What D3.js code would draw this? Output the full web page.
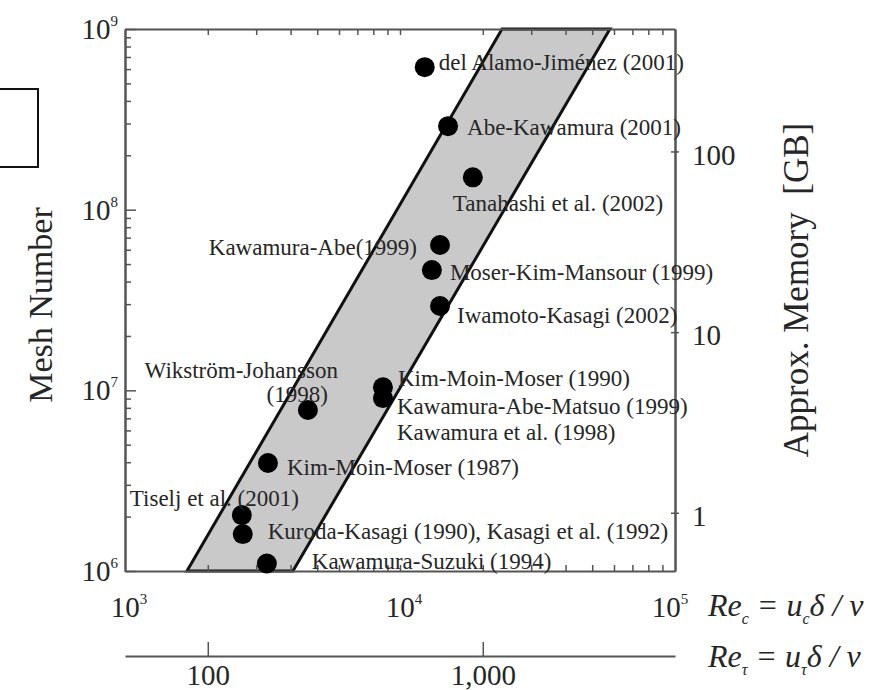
<!DOCTYPE html>
<meta charset="utf-8">
<script src="https://d3js.org/d3.v7.min.js"></script>
<style>
  body { margin: 0; background: #fff; }
  text { font-family: "Liberation Serif", "DejaVu Serif", serif; fill: #262626; }
</style>
<div id="chart"></div>
<script>

    // DNS studies: Re_c = u_c delta / nu, and number of mesh points
    var studies = ["del Alamo-Jiménez (2001)", "Abe-Kawamura (2001)", "Tanahashi et al. (2002)",
                   "Kawamura-Abe(1999)", "Moser-Kim-Mansour (1999)", "Iwamoto-Kasagi (2002)",
                   "Kim-Moin-Moser (1990)", "Kawamura-Abe-Matsuo (1999)", "Wikström-Johansson (1998)",
                   "Kim-Moin-Moser (1987)", "Tiselj et al. (2001)", "Kuroda-Kasagi (1990)", "Kawamura-Suzuki (1994)"]
    var reC  = [12300, 14950, 18400, 13980, 13060, 13980, 8670, 8670, 4625, 3310, 2660, 2680, 3280]
    var mesh = [6.15e8, 2.9e8, 1.51e8, 6.37e7, 4.63e7, 2.93e7, 1.04e7, 9.06e6, 7.78e6, 3.96e6, 2.04e6, 1.6e6, 1.1e6]

    // grey band: Re_c of its left / right edge at 10^6 and at 10^9 mesh points
    var bandReAt1e6 = [1680, 4080]
    var bandReAt1e9 = [23500, 58000]

    // axis ticks
    var meshTicks = [1e6, 1e7, 1e8, 1e9]
    var reTicks = [1e3, 1e4, 1e5]
    var memTicks = [1, 10, 100]
    var reTauTicks = [100, 1000]
    var meshPerGB = 2.1e6
    var reCoverReTau = 20

    // label lines: point index, text, offset from the point
    var labels = [
        {i: 0, t: "del Alamo-Jiménez (2001)", dx: 14, dy: -5, a: "start"},
        {i: 1, t: "Abe-Kawamura (2001)", dx: 19, dy: 1, a: "start"},
        {i: 2, t: "Tanahashi et al. (2002)", dx: -20, dy: 26, a: "start"},
        {i: 3, t: "Kawamura-Abe(1999)", dx: -23, dy: 2, a: "end"},
        {i: 4, t: "Moser-Kim-Mansour (1999)", dx: 18, dy: 2, a: "start"},
        {i: 5, t: "Iwamoto-Kasagi (2002)", dx: 17, dy: 9, a: "start"},
        {i: 6, t: "Kim-Moin-Moser (1990)", dx: 15, dy: -9, a: "start"},
        {i: 7, t: "Kawamura-Abe-Matsuo (1999)", dx: 14, dy: 8, a: "start"},
        {i: 7, t: "Kawamura et al. (1998)", dx: 14, dy: 34, a: "start"},
        {i: 8, t: "Wikström-Johansson", dx: 30, dy: -40, a: "end"},
        {i: 8, t: "(1998)", dx: 20, dy: -16, a: "end"},
        {i: 9, t: "Kim-Moin-Moser (1987)", dx: 19, dy: 4, a: "start"},
        {i: 10, t: "Tiselj et al. (2001)", dx: -112, dy: -17, a: "start"},
        {i: 11, t: "Kuroda-Kasagi (1990), Kasagi et al. (1992)", dx: 25, dy: -3, a: "start"},
        {i: 12, t: "Kawamura-Suzuki (1994)", dx: 45, dy: -3, a: "start"}
    ]

    var W = 882, H = 690
    var plot = {left: 125, right: 675, top: 29, bottom: 571}

    var svg = d3.select("#chart").append("svg")
        .attr("width", W).attr("height", H)

    // ----------------- //
    // Scales
    // ----------------- //
    var x = d3.scaleLog().domain([1e3, 1e5]).range([plot.left, plot.right])
    var y = d3.scaleLog().domain([1e6, 1e9]).range([plot.bottom, plot.top])
    var mem = d3.scaleLog().domain([1e6 / meshPerGB, 1e9 / meshPerGB]).range([plot.bottom, plot.top])
    var reTau = d3.scaleLog().domain([1e3 / reCoverReTau, 1e5 / reCoverReTau]).range([plot.left, plot.right])

    // stray box at the far left of the scan
    svg.append("rect").attr("x", -5).attr("y", 89).attr("width", 43).attr("height", 78)
        .attr("fill", "none").attr("stroke", "#111").attr("stroke-width", 2)

    // band
    var band = [[bandReAt1e6[0], 1e6], [bandReAt1e9[0], 1e9], [bandReAt1e9[1], 1e9], [bandReAt1e6[1], 1e6]]
    svg.append("path")
        .attr("d", d3.line().x(function(d){ return x(d[0]) }).y(function(d){ return y(d[1]) })(band) + "Z")
        .attr("fill", "#c9c9c9").attr("stroke", "#111").attr("stroke-width", 3).attr("stroke-linejoin", "miter")

    // minor ticks helper
    function minors(lo, hi) {
        var out = []
        for (var p = lo; p < hi; p *= 10)
            for (var k = 2; k <= 9; k++) out.push(k * p)
        return out
    }

    var axisColor = "#555"
    function styleAxis(g) {
        g.selectAll("path, line").attr("stroke", axisColor).attr("stroke-width", 1.5)
        g.selectAll("path").attr("stroke-width", 2)
    }

    // left / right / top / bottom frame with inward ticks
    svg.append("g").attr("transform", "translate(" + plot.left + ",0)")
        .call(d3.axisLeft(y).tickValues(minors(1e6, 1e9)).tickSizeInner(-6).tickSizeOuter(0).tickFormat(""))
        .call(styleAxis)
    svg.append("g").attr("transform", "translate(" + plot.left + ",0)")
        .call(d3.axisLeft(y).tickValues(meshTicks).tickSizeInner(-11).tickSizeOuter(0).tickFormat(""))
        .call(styleAxis)
    svg.append("g").attr("transform", "translate(0," + plot.top + ")")
        .call(d3.axisTop(x).tickValues(minors(1e3, 1e5).concat([1e4])).tickSizeInner(-6).tickSizeOuter(0).tickFormat(""))
        .call(styleAxis)
    svg.append("g").attr("transform", "translate(0," + plot.bottom + ")")
        .call(d3.axisBottom(x).tickValues(minors(1e3, 1e5).concat([1e4])).tickSizeInner(-6).tickSizeOuter(0).tickFormat(""))
        .call(styleAxis)
    svg.append("g").attr("transform", "translate(" + plot.right + ",0)")
        .call(d3.axisRight(mem).tickValues(memTicks).tickSizeInner(4).tickSizeOuter(0).tickFormat(""))
        .call(styleAxis)
    svg.append("g").attr("transform", "translate(" + plot.right + ",0)")
        .call(d3.axisRight(mem).tickValues(memTicks).tickSizeInner(-4).tickSizeOuter(0).tickFormat(""))
        .call(styleAxis)

    // power-of-ten labels
    function pow10(sel, d) {
        sel.append("tspan").text("10")
        sel.append("tspan").text(Math.round(Math.log10(d))).attr("font-size", 15).attr("dy", -13)
    }
    meshTicks.forEach(function(d) {
        svg.append("text").attr("x", plot.left - 7).attr("y", y(d) + 10)
            .attr("text-anchor", "end").attr("font-size", 29).call(pow10, d)
    })
    reTicks.forEach(function(d, i) {
        svg.append("text").attr("x", x(d) + (i == 2 ? -5 : 4)).attr("y", 617)
            .attr("text-anchor", "middle").attr("font-size", 29).call(pow10, d)
    })
    memTicks.forEach(function(d) {
        svg.append("text").attr("x", plot.right + 17).attr("y", mem(d) + 3).attr("dy", "0.35em")
            .attr("font-size", 29).text(d)
    })

    // Re_tau axis underneath
    svg.append("g").attr("transform", "translate(0,656)")
        .call(d3.axisBottom(reTau).tickValues(reTauTicks).tickSizeInner(-14).tickSizeOuter(0)
              .tickPadding(8).tickFormat(d3.format(",")))
        .call(styleAxis)
        .call(function(g) {
            g.selectAll("text").attr("font-size", 29).attr("font-family", "Liberation Serif").attr("fill", "#262626")
                .attr("dy", "0.71em")
        })

    // axis titles
    svg.append("text").attr("transform", "translate(52,305) rotate(-90)")
        .attr("text-anchor", "middle").attr("font-size", 34).text("Mesh Number")
    svg.append("text").attr("transform", "translate(808,290) rotate(-90)")
        .attr("text-anchor", "middle").attr("font-size", 35).text("Approx. Memory\u00a0\u00a0[GB]")

    function reLabel(yy, sub) {
        var t = svg.append("text").attr("x", 708).attr("y", yy).attr("font-size", 32).attr("font-style", "italic")
        t.append("tspan").text("Re")
        t.append("tspan").text(sub).attr("font-size", 16).attr("dy", 8)
        t.append("tspan").text("\u00a0=\u00a0u").attr("dy", -8)
        t.append("tspan").text(sub).attr("font-size", 16).attr("dy", 8)
        t.append("tspan").text("δ\u00a0/\u00a0ν").attr("dy", -8)
    }
    reLabel(616, "c")
    reLabel(667, "τ")

    // points
    svg.selectAll("circle.pt")
        .data(reC)
        .enter()
        .append("circle")
        .attr("class", "pt")
        .attr("cx", function(d){ return x(d) })
        .attr("cy", function(d, i){ return y(mesh[i]) })
        .attr("r", 10)
        .attr("fill", "#000")

    // labels
    svg.selectAll("text.lab")
        .data(labels)
        .enter()
        .append("text")
        .attr("class", "lab")
        .attr("x", function(d){ return x(reC[d.i]) + d.dx })
        .attr("y", function(d){ return y(mesh[d.i]) + d.dy })
        .attr("dy", "0.35em")
        .attr("text-anchor", function(d){ return d.a })
        .attr("font-size", 23)
        .text(function(d){ return d.t })

</script>
